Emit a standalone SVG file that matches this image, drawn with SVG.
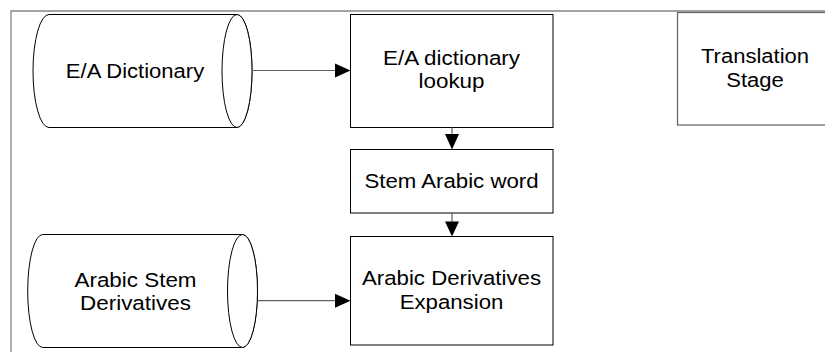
<svg xmlns="http://www.w3.org/2000/svg" width="825" height="352" viewBox="0 0 825 352">
<style>
.frame{fill:none;stroke:#868686;stroke-width:1.3}
.node{fill:#fff;stroke:#000;stroke-width:1}
.stage{fill:#fff;stroke:#606060;stroke-width:1.2}
.lbl{font-family:"Liberation Sans",Arial,sans-serif;font-size:19.5px;fill:#000;text-anchor:middle}
.conn{stroke:#606060;stroke-width:1.2;fill:none}
.head{fill:#000;stroke:none}
</style>
<rect width="825" height="352" fill="#fff"/>
<path class="frame" d="M11,352 V11 H825"/>
<g id="translation-stage">
<rect class="stage" x="677.5" y="12.5" width="160" height="112.5"/>
<text class="lbl" transform="translate(755 63.3) scale(1.13 1)"><tspan x="0" y="0">Translation</tspan><tspan x="0" y="24">Stage</tspan></text>
</g>
<g id="ea-dictionary">
<path class="node" d="M49,14.5 H237 A15,56.5 0 0 1 237,127.5 H49 A16,56.5 0 0 1 49,14.5 Z"/>
<ellipse class="node" cx="237" cy="71" rx="15" ry="56.5"/>
<text class="lbl" transform="translate(135 77.5) scale(1.13 1)">E/A Dictionary</text>
</g>
<g id="ea-lookup">
<rect class="node" x="350.5" y="14.5" width="202.5" height="113"/>
<text class="lbl" transform="translate(451.5 64.5) scale(1.15 1)"><tspan x="0" y="0">E/A dictionary</tspan><tspan x="0" y="23.5">lookup</tspan></text>
</g>
<g id="stem-arabic">
<rect class="node" x="350.5" y="149.5" width="202.5" height="63.5"/>
<text class="lbl" transform="translate(451.5 188) scale(1.14 1)">Stem Arabic word</text>
</g>
<g id="arabic-stem-derivatives">
<path class="node" d="M42.7,234.5 H242.5 A15,56.5 0 0 1 242.5,347.5 H42.7 A15,56.5 0 0 1 42.7,234.5 Z"/>
<ellipse class="node" cx="242.5" cy="291" rx="15" ry="56.5"/>
<text class="lbl" transform="translate(135.5 287.3) scale(1.15 1)"><tspan x="0" y="0">Arabic Stem</tspan><tspan x="0" y="22.5">Derivatives</tspan></text>
</g>
<g id="arabic-expansion">
<rect class="node" x="350.5" y="236.5" width="202.5" height="108.5"/>
<text class="lbl" transform="translate(451.5 284.5) scale(1.14 1)"><tspan x="0" y="0">Arabic Derivatives</tspan><tspan x="0" y="24.5">Expansion</tspan></text>
</g>
<g id="connectors">
<path class="conn" d="M252,70.5 H336"/>
<path class="head" d="M350.5,70.5 L335,63.5 L335,77.5 Z"/>
<path class="conn" d="M452,127.5 V135"/>
<path class="head" d="M452,149.5 L445,134 L459,134 Z"/>
<path class="conn" d="M452,213 V222"/>
<path class="head" d="M452,236.5 L445,221.5 L459,221.5 Z"/>
<path class="conn" d="M257.5,300.7 H336"/>
<path class="head" d="M350.5,300.7 L335,293.7 L335,307.7 Z"/>
</g>
</svg>
